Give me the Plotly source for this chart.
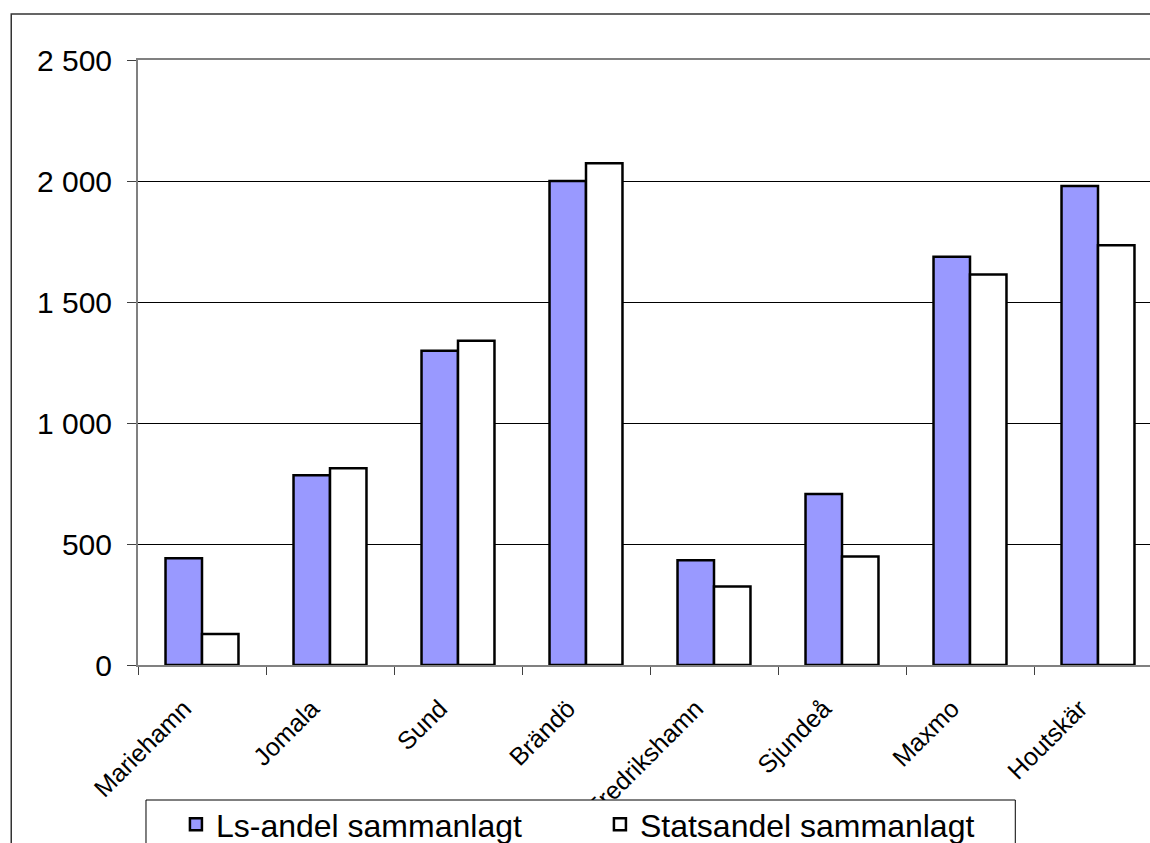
import plotly.graph_objects as go

categories = ["Mariehamn", "Jomala", "Sund", "Brändö", "Fredrikshamn", "Sjundeå", "Maxmo", "Houtskär"]
ls_andel = [441, 784, 1299, 2000, 433, 707, 1687, 1979]
statsandel = [128, 813, 1340, 2073, 324, 448, 1614, 1734]
series_names = ["Ls-andel sammanlagt", "Statsandel sammanlagt"]
y_tickvals = [0, 500, 1000, 1500, 2000, 2500]
y_ticktext = ["0", "500", "1 000", "1 500", "2 000", "2 500"]

# The chart in the reference is cropped at the right and bottom edges of the
# window, so the figure is a bit larger than the window and the page does not scroll.
W, H = 1170, 860
ML, MT, MR = 138, 60, 6
PLOT_BOTTOM = 665
MB = H - PLOT_BOTTOM
PW = W - ML - MR
PH = PLOT_BOTTOM - MT


def px_x(x):
    return (x - ML) / PW


def px_y(y):
    return (PLOT_BOTTOM - y) / PH


FONT = "Liberation Sans, Arial, sans-serif"

fig = go.Figure()
fig.add_trace(go.Bar(
    x=categories, y=ls_andel, name=series_names[0],
    marker=dict(color="#9999FF", line=dict(color="black", width=2.5)),
))
fig.add_trace(go.Bar(
    x=categories, y=statsandel, name=series_names[1],
    marker=dict(color="white", line=dict(color="black", width=2.5)),
))

fig.update_layout(
    width=W, height=H,
    margin=dict(l=ML, r=MR, t=MT, b=MB, pad=0),
    paper_bgcolor="white", plot_bgcolor="white",
    barmode="group", bargap=0.43, bargroupgap=0,
    font=dict(family=FONT, color="black"),
    showlegend=True,
    legend=dict(
        orientation="h", x=px_x(176), y=px_y(797), xanchor="left", yanchor="top",
        borderwidth=0, bgcolor="rgba(0,0,0,0)",
        font=dict(size=32, family=FONT, color="black"),
        entrywidth=379, entrywidthmode="pixels",
        traceorder="normal",
    ),
    xaxis=dict(
        type="category", range=[-0.5, 7.5],
        tickson="boundaries", ticks="outside", ticklen=8, tickwidth=1, tickcolor="#404040",
        showline=True, linecolor="#808080", linewidth=2, mirror=True,
        showgrid=False, tickangle=-45, tickfont=dict(size=25, family=FONT, color="black"),
        ticklabelstandoff=17, ticklabelshift=-18,
    ),
    yaxis=dict(
        range=[0, 2500], tickvals=y_tickvals, ticktext=y_ticktext,
        ticks="outside", ticklen=9, tickwidth=1, tickcolor="#404040",
        showline=True, linecolor="#808080", linewidth=2, mirror=True,
        showgrid=True, gridcolor="black", gridwidth=1, zeroline=False,
        tickfont=dict(size=30, family=FONT, color="black"),
        ticklabelstandoff=9,
    ),
    shapes=[
        dict(
            type="rect", xref="paper", yref="paper",
            x0=px_x(11), x1=1.3, y0=-0.6, y1=px_y(14),
            line=dict(color="#333333", width=1.5), fillcolor="rgba(0,0,0,0)", layer="below",
        ),
        dict(
            type="rect", xref="paper", yref="paper",
            x0=px_x(146), x1=px_x(1017), y0=px_y(900), y1=px_y(800),
            line=dict(color="black", width=1), fillcolor="white", layer="above",
        ),
    ],
)

fig.write_html(
    "out.html",
    config={"displayModeBar": False},
    post_script="document.documentElement.style.overflow='hidden';"
                "document.body.style.margin='0';document.body.style.overflow='hidden';",
)
